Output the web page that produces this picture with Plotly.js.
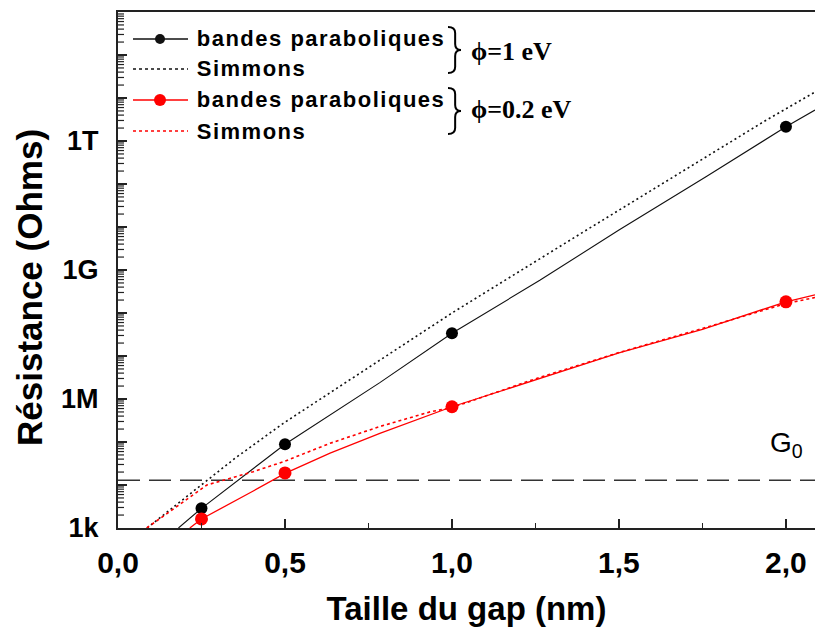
<!DOCTYPE html>
<html>
<head>
<meta charset="utf-8">
<script src="https://cdn.plot.ly/plotly-3.0.1.min.js"></script>
<style>
html,body{margin:0;padding:0;overflow:hidden;background:#fff}
.annotation[data-index="0"] text,.annotation[data-index="1"] text,
.annotation[data-index="2"] text,.annotation[data-index="3"] text{letter-spacing:1.5px}
</style>
</head>
<body>
<div id="chart" style="width:815px;height:628px"></div>
<script>
// ---- data (log10 of resistance in Ohms) ----
const gapPoints = [0.25, 0.5, 1.0, 2.0];
const phi1PointsLog = [3.458, 4.947, 7.53, 12.33];
const phi02PointsLog = [3.21, 4.28, 5.82, 8.26];

const phi1ParabX = [0.181, 0.25, 0.5, 0.784, 1.0, 1.263, 1.5, 1.763, 2.0, 2.087];
const phi1ParabLog = [3.0, 3.458, 4.947, 6.38, 7.53, 8.76, 9.93, 11.18, 12.33, 12.72];

const phi1SimmonsX = [0.087, 0.266, 0.35, 0.495, 0.754, 1.0, 1.403, 1.533, 1.942, 2.087];
const phi1SimmonsLog = [3.0, 4.116, 4.62, 5.435, 6.75, 8.0, 9.93, 10.55, 12.49, 13.14];

const phi02ParabX = [0.215, 0.25, 0.405, 0.5, 0.635, 0.784, 1.0, 1.25, 1.5, 1.75, 1.852, 2.0, 2.087];
const phi02ParabLog = [3.0, 3.21, 3.86, 4.27, 4.74, 5.20, 5.82, 6.45, 7.07, 7.62, 7.88, 8.26, 8.42];

const phi02SimmonsX = [0.086, 0.176, 0.266, 0.405, 0.495, 0.635, 0.784, 0.934, 1.0, 1.25, 1.5, 1.75, 2.0, 2.087];
const phi02SimmonsLog = [3.0, 3.5, 4.0, 4.31, 4.54, 4.97, 5.36, 5.70, 5.80, 6.47, 7.08, 7.64, 8.22, 8.36];

const G0Resistance = 12906;   // 1/G0 in Ohms
const G0X = [0, 2.087];

const yTickVals = [1e3,1e4,1e5,1e6,1e7,1e8,1e9,1e10,1e11,1e12,1e13,1e14,1e15];
const yTickText = ['1k','','','1M','','','1G','','','1T','','',''];
const yMinorDigits = [2,3,4,5,6,7,8,9];

const legendLabels = ['bandes paraboliques','Simmons','bandes paraboliques','Simmons'];
const phiLabels = ['\u03d5=1 eV','\u03d5=0.2 eV'];

// ---- helpers ----
const toR = a => a.map(v => Math.pow(10, v));
const L = 118, T = 12, W = 697, H = 516;
const Y0 = 3, Y1 = 15;
const px = x => (x - L) / W;
const py = y => (T + H - y) / H;

const BLACK = '#111111', RED = '#ff0000';

const traces = [
  {x: G0X, y: [G0Resistance, G0Resistance], mode:'lines', line:{color:'#333', width:1.6, dash:'22px,9px'}, hoverinfo:'skip'},
  {x: phi1SimmonsX, y: toR(phi1SimmonsLog), mode:'lines', line:{color:BLACK, width:1.6, dash:'2px,3px'}},
  {x: phi1ParabX, y: toR(phi1ParabLog), mode:'lines', line:{color:BLACK, width:1.1}},
  {x: phi02SimmonsX, y: toR(phi02SimmonsLog), mode:'lines', line:{color:RED, width:1.6, dash:'3px,3px'}},
  {x: phi02ParabX, y: toR(phi02ParabLog), mode:'lines', line:{color:RED, width:1.3}},
  {x: gapPoints, y: toR(phi1PointsLog), mode:'markers', marker:{color:'#000', size:12, line:{width:0}}},
  {x: gapPoints, y: toR(phi02PointsLog), mode:'markers', marker:{color:RED, size:13, line:{width:0}}}
];

const shapes = [];
// minor log ticks on the y axis (axis decoration)
yTickVals.slice(0, -1).forEach(d => yMinorDigits.forEach(k => {
  const fy = (Math.log10(d * k) - Y0) / (Y1 - Y0);
  shapes.push({type:'line', xref:'paper', yref:'paper', x0:px(118), x1:px(124), y0:fy, y1:fy,
    line:{color:'#222', width:1.2}, layer:'above'});
}));

// legend shapes
const rows = [39, 69, 100, 131];
const legStyles = [
  {color:BLACK, dash:'solid', width:1.3, marker:10},
  {color:BLACK, dash:'dot', width:1.5, marker:0},
  {color:RED, dash:'solid', width:1.3, marker:12},
  {color:RED, dash:'dot', width:1.5, marker:0}
];
rows.forEach((ry, i) => {
  const s = legStyles[i];
  shapes.push({type:'line', xref:'paper', yref:'paper', x0:px(133), x1:px(188), y0:py(ry), y1:py(ry),
    line:{color:s.color, width:s.width, dash:s.dash}});
  if (s.marker) {
    const r = s.marker/2;
    shapes.push({type:'circle', xref:'paper', yref:'paper', x0:px(160-r), x1:px(160+r), y0:py(ry+r), y1:py(ry-r),
      fillcolor:s.color, line:{width:0}});
  }
});
// braces
function brace(x, yTop, yBot, w) {
  const ym = (yTop + yBot) / 2, xm = x + w*0.55, xt = x + w;
  const p = (a,b) => px(a).toFixed(5) + ',' + py(b).toFixed(5);
  return 'M' + p(x, yTop) + ' Q' + p(xm, yTop) + ' ' + p(xm, yTop+6) +
    ' L' + p(xm, ym-6) + ' Q' + p(xm, ym) + ' ' + p(xt, ym) +
    ' Q' + p(xm, ym) + ' ' + p(xm, ym+6) +
    ' L' + p(xm, yBot-6) + ' Q' + p(xm, yBot) + ' ' + p(x, yBot);
}
shapes.push({type:'path', xref:'paper', yref:'paper', path:brace(448, 27, 73, 13), line:{color:'#000', width:2}});
shapes.push({type:'path', xref:'paper', yref:'paper', path:brace(448, 88, 134, 13), line:{color:'#000', width:2}});

const annotations = [];
rows.forEach((ry, i) => {
  annotations.push({xref:'paper', yref:'paper', x:px(195), y:py(ry), xanchor:'left', yanchor:'middle',
    xshift: 0.75 * legendLabels[i].length,
    text:legendLabels[i], showarrow:false, font:{family:'Liberation Sans, Arial', size:22, color:'#000', weight:700}});
});
annotations.push({xref:'paper', yref:'paper', x:px(469), y:py(51), xanchor:'left', yanchor:'middle',
  text:phiLabels[0], showarrow:false, font:{family:'Liberation Serif, Times New Roman', size:26, color:'#000', weight:700}});
annotations.push({xref:'paper', yref:'paper', x:px(469), y:py(109), xanchor:'left', yanchor:'middle',
  text:phiLabels[1], showarrow:false, font:{family:'Liberation Serif, Times New Roman', size:26, color:'#000', weight:700}});
annotations.push({xref:'paper', yref:'paper', x:px(768), y:py(445), xanchor:'left', yanchor:'middle',
  text:'G<sub>0</sub>', showarrow:false, font:{family:'Liberation Sans, Arial', size:28, color:'#000'}});
// y title
annotations.push({xref:'paper', yref:'paper', x:px(29), y:py(288), xanchor:'center', yanchor:'middle', textangle:-90,
  text:'Résistance (Ohms)', showarrow:false, font:{family:'Liberation Sans, Arial', size:35, color:'#000', weight:700}});

const layout = {
  width:815, height:628,
  margin:{l:L, r:0, t:T, b:628-T-H, pad:0},
  paper_bgcolor:'#fff', plot_bgcolor:'#fff',
  showlegend:false,
  separators:', ',
  font:{family:'Liberation Sans, Arial', color:'#000'},
  xaxis:{
    range:[0, 2.087], showgrid:false, zeroline:false,
    showline:true, linecolor:'#222', linewidth:2, mirror:true,
    ticks:'inside', ticklen:9, tickwidth:1.5, tickcolor:'#222',
    dtick:0.5, tick0:0, tickformat:'.1f',
    tickfont:{size:30, weight:700, color:'#000'}, ticklabelstandoff:7,
    minor:{ticks:'inside', ticklen:5, dtick:0.25, tickcolor:'#222', tickwidth:1.5, showgrid:false},
    title:{text:'Taille du gap (nm)', font:{size:33, weight:700, color:'#000'}, standoff:19}
  },
  yaxis:{
    type:'log', range:[Y0, Y1], showgrid:false, zeroline:false,
    showline:true, linecolor:'#222', linewidth:2,
    ticks:'inside', ticklen:9, tickwidth:1.5, tickcolor:'#222',
    tickmode:'array', tickvals:yTickVals, ticktext:yTickText,
    tickfont:{size:27, weight:700, color:'#000'}, ticklabelstandoff:12
  },
  shapes:shapes,
  annotations:annotations
};

Plotly.newPlot('chart', traces, layout, {staticPlot:true, displayModeBar:false});
</script>
</body>
</html>
